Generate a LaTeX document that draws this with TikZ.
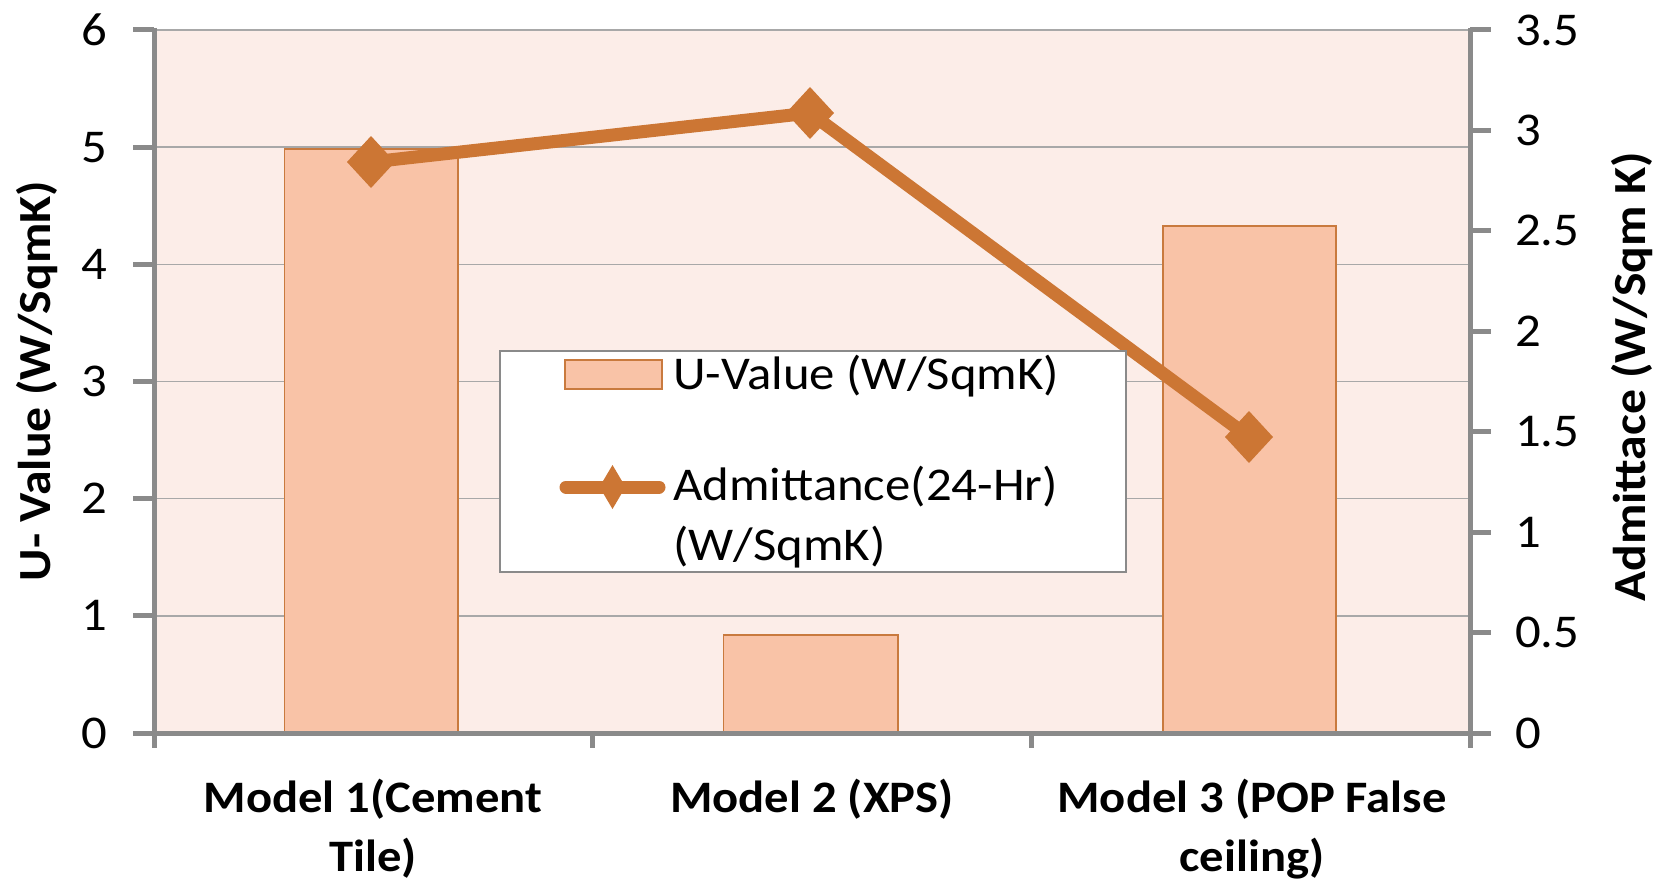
\documentclass[tikz,border=0pt]{standalone}
\usepackage{fontspec}
\setmainfont{Carlito}[FakeStretch=1.08]
\definecolor{plotbg}{HTML}{FCEDE8}
\definecolor{barfill}{HTML}{F9C3A7}
\definecolor{barline}{HTML}{C97A3E}
\definecolor{admit}{HTML}{CC7634}
\definecolor{axisgray}{HTML}{8A8A8A}
\definecolor{gridgray}{HTML}{A8A8A8}
\begin{document}
\begin{tikzpicture}[x=1pt,y=-1pt,
  ticklab/.style={font=\fontsize{47}{52}\selectfont, inner sep=0pt},
  catlab/.style={font=\fontsize{45}{59}\selectfont\bfseries, inner sep=0pt, align=center, anchor=base},
  axtitle/.style={font=\fontsize{46}{50}\selectfont\bfseries, inner sep=0pt, rotate=90},
  leglab/.style={font=\fontsize{47}{60}\selectfont, inner sep=0pt, anchor=base west},
  gridline/.style={draw=gridgray, line width=1.6pt},
  axisline/.style={draw=axisgray, line width=5pt},
  bar/.style={fill=barfill, draw=barline, line width=1.8pt},
  admline/.style={draw=admit, line width=13pt, line join=round},
  marker/.style={fill=admit}
]
\useasboundingbox (0,0) rectangle (1671,883);
% plot area
\fill[plotbg] (154,30) rectangle (1470,733);
\foreach \k in {1,...,6} \draw[gridline] (154,{733-117.17*\k}) -- (1470,{733-117.17*\k});
% bars
\draw[bar] (284.5,733) rectangle (458,149);
\draw[bar] (723.5,733) rectangle (898,635);
\draw[bar] (1163,733) rectangle (1336,226);
% axes
\draw[axisline] (154,28) -- (154,735);
\draw[axisline] (1470,28) -- (1470,735);
\draw[axisline] (133,733) -- (1491,733);
\foreach \k in {0,...,6} {
  \draw[axisline] (133,{733-117.17*\k}) -- (154,{733-117.17*\k});
  \node[ticklab, anchor=east] (yl\k) at (107,{733-117.17*\k}) {\k};
}
\foreach \v [count=\k from 0] in {0,0.5,1,1.5,2,2.5,3,3.5} {
  \draw[axisline] (1470,{733-100.43*\k}) -- (1491,{733-100.43*\k});
  \node[ticklab, anchor=west] (yr\k) at (1515,{733-100.43*\k}) {\v};
}
\foreach \x in {154,592.7,1031.3,1470} \draw[axisline] (\x,733) -- (\x,748);
% axis titles
\node[axtitle] (ytitle) at (37,381) {U- Value (W/SqmK)};
\node[axtitle] (y2title) at (1632,377) {Admittace (W/Sqm K)};
% category labels (base anchor = last line)
\node[catlab] (c1) at (373,871) {Model 1(Cement\\Tile)};
\node[catlab] (c2) at (812,812) {Model 2 (XPS)};
\node[catlab] (c3) at (1252,871) {Model 3 (POP False\\ceiling)};
% admittance line
\coordinate (p1) at (371,162);
\coordinate (p2) at (810,113);
\coordinate (p3) at (1249,437);
\draw[admline] (p1) -- (p2) -- (p3);
\foreach \p in {p1,p2,p3}
  \fill[marker] (\p) ++(0,-26) -- ++(24,26) -- ++(-24,26) -- ++(-24,-26) -- cycle;
% legend
\node[draw=axisgray, fill=white, line width=1.6pt, minimum width=626pt, minimum height=221pt, anchor=north west, inner sep=0pt] (legend) at (499,350) {};
\draw[bar] (565,360) rectangle (662,389);
\node[leglab] (lg1) at (673,389) {U-Value (W/SqmK)};
\coordinate (ls1) at (566,487);
\coordinate (ls2) at (659,487);
\draw[admline, line cap=round] (ls1) -- (ls2);
\fill[marker] (612.5,487) ++(0,-22) -- ++(13,22) -- ++(-13,22) -- ++(-13,-22) -- cycle;
\node[leglab, align=left] (lg2) at (673,560) {Admittance(24-Hr)\\(W/SqmK)};
\end{tikzpicture}
\end{document}
